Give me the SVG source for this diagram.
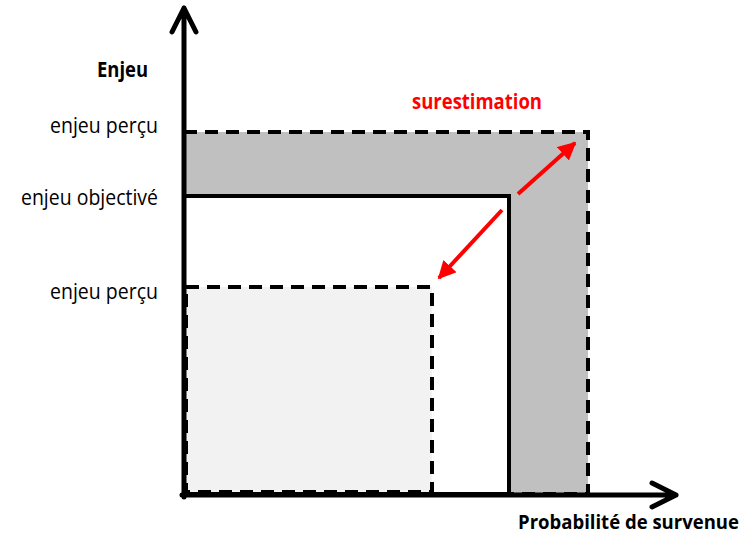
<svg xmlns="http://www.w3.org/2000/svg" width="755" height="543" viewBox="0 0 755 543">
<style>
.lbl{font-family:"Open Sans","Liberation Sans",sans-serif;font-size:21px;fill:#000}
.b{font-weight:bold}
.axis{stroke:#000;stroke-width:5;fill:none;stroke-linecap:round;stroke-linejoin:round}
.dash{stroke:#000;stroke-width:4;stroke-dasharray:13 8}
.red{stroke:#ff0000;stroke-width:4;fill:none}
</style>
<defs>
<marker id="ah" viewBox="0 0 10 10" refX="9" refY="5" markerWidth="4.5" markerHeight="4.5" orient="auto" markerUnits="strokeWidth">
<path d="M0,0 L10,5 L0,10 z" fill="#ff0000"/>
</marker>
</defs>
<rect width="755" height="543" fill="#fff"/>
<g id="outer">
<rect x="184" y="132" width="404" height="362" fill="#c0c0c0" class="dash"/>
</g>
<g id="inner">
<rect x="184" y="196" width="325" height="298" fill="#fff" stroke="#000" stroke-width="4"/>
</g>
<g id="small">
<rect x="186" y="287" width="246" height="205" fill="#f2f2f2" class="dash"/>
</g>
<g id="connectors">
<path class="axis" d="M184,497 V8 M172,32 L184,8 L196,32"/>
<path class="axis" d="M182,495 H676 M652,483 L676,495 L652,507"/>
<line class="red" x1="518" y1="194" x2="575" y2="143" marker-end="url(#ah)"/>
<line class="red" x1="502" y1="210" x2="439" y2="278" marker-end="url(#ah)"/>
</g>
<g id="labels">
<text class="lbl b" x="97" y="77" textLength="51" lengthAdjust="spacingAndGlyphs">Enjeu</text>
<text class="lbl" x="50" y="133" textLength="108" lengthAdjust="spacingAndGlyphs">enjeu perçu</text>
<text class="lbl" x="21" y="205" textLength="137" lengthAdjust="spacingAndGlyphs">enjeu objectivé</text>
<text class="lbl" x="50" y="299" textLength="108" lengthAdjust="spacingAndGlyphs">enjeu perçu</text>
<text class="lbl b" x="412" y="109" style="fill:#ff0000" textLength="130" lengthAdjust="spacingAndGlyphs">surestimation</text>
<text class="lbl b" x="518" y="529" style="font-size:19px" textLength="221" lengthAdjust="spacingAndGlyphs">Probabilité de survenue</text>
</g>
</svg>
